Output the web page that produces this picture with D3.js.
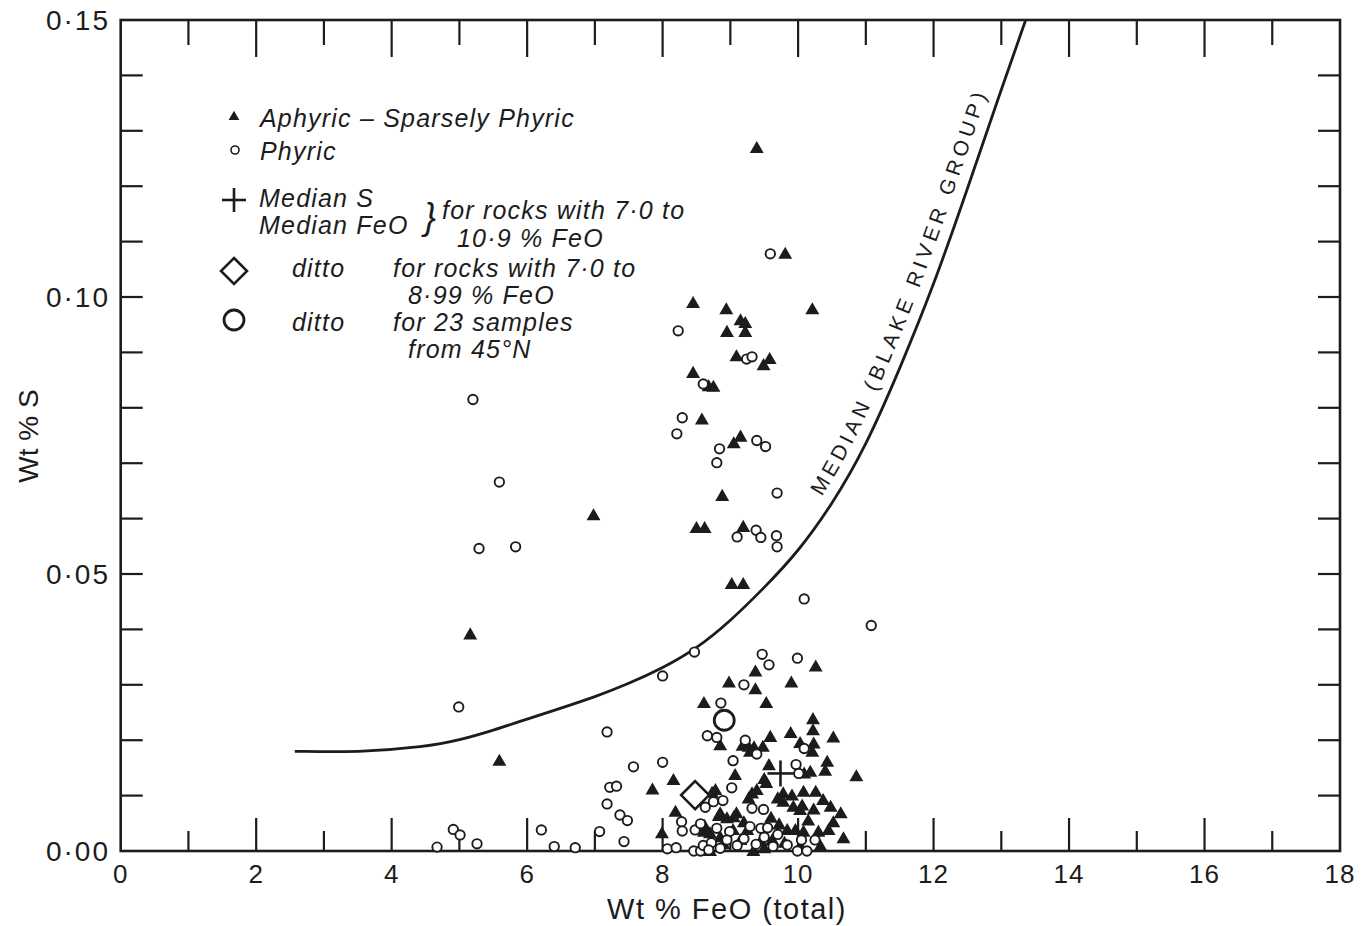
<!DOCTYPE html>
<html lang="en">
<head>
    <meta charset="UTF-8">
    <title>Wt % S vs Wt % FeO</title>
    <script src="https://d3js.org/d3.v7.min.js"></script>
    <style>
        body {
            margin: 0;
            padding: 0;
            background-color: white;
        }
        svg text {
            fill: #1c1c1c;
        }
    </style>
</head>
<body>
    <svg id="chart" width="1365" height="926"></svg>
    <script>
        // FeO (wt %), S (wt %)
        const aphyric = [
            [9.39,0.1269],[9.81,0.1078],[10.21,0.0978],[8.45,0.0989],[8.94,0.0978],[9.15,0.0958],[9.22,0.0953],
            [8.95,0.0937],[9.22,0.0937],[9.09,0.0893],[9.49,0.0877],[9.58,0.0888],[8.45,0.0863],[8.68,0.0839],
            [8.75,0.0838],[8.58,0.0779],[9.15,0.0748],[9.05,0.0736],[8.88,0.0641],[8.50,0.0583],[8.62,0.0583],
            [9.19,0.0585],[9.02,0.0482],[9.19,0.0482],
            [6.98,0.0606],[5.16,0.0391],[5.59,0.0163],
            [10.26,0.0333],[9.37,0.0324],[8.98,0.0304],[9.37,0.0292],[9.90,0.0304],[8.61,0.0267],[9.53,0.0267],
            [10.22,0.0238],[10.22,0.0218],[10.52,0.0205],[9.89,0.0213],[9.59,0.0206],[10.03,0.0195],[10.23,0.0194],
            [8.85,0.0191],[9.27,0.0188],[9.48,0.0188],[10.21,0.0179],[9.29,0.0179],[9.18,0.0190],[9.35,0.0187],
            [10.43,0.0161],[9.57,0.0155],[10.40,0.0145],[10.86,0.0135],[10.09,0.0140],[10.18,0.0143],[9.07,0.0137],
            [8.16,0.0128],[7.85,0.0111],[8.78,0.0110],[9.39,0.0110],[9.32,0.0104],[9.53,0.0123],[9.50,0.0130],
            [9.78,0.0104],[10.08,0.0107],[10.26,0.0107],[10.37,0.0092],[9.78,0.0089],[9.93,0.0080],[10.03,0.0074],
            [10.23,0.0075],[10.48,0.0080],[10.63,0.0068],[9.27,0.0095],[8.73,0.0105],[8.19,0.0071],[9.09,0.0068],
            [8.95,0.0059],[8.61,0.0035],[8.70,0.0032],[9.04,0.0038],[9.25,0.0038],[9.84,0.0038],[9.96,0.0038],
            [10.08,0.0035],[10.30,0.0035],[10.45,0.0038],[10.67,0.0023],[10.33,0.0009],[9.62,0.0020],[9.34,0.0],
            [8.70,0.0],[7.99,0.0032],[10.03,0.0009],[9.05,0.0061],[8.83,0.0063],[8.62,0.0045],[9.15,0.0020],
            [9.45,0.0018],[9.80,0.0015],[8.90,0.0012],[9.60,0.0060],[8.85,0.0025],[10.15,0.0055],[9.70,0.0095],
            [9.91,0.0100],[10.06,0.0082],[8.85,0.0068],[9.20,0.0052],[9.72,0.0048],[10.52,0.0052],[9.50,0.0005]
        ];
        const phyric = [
            [9.59,0.1078],[8.23,0.0939],[9.24,0.0888],[9.32,0.0892],[8.60,0.0843],[8.29,0.0782],[8.21,0.0753],
            [8.84,0.0726],[8.80,0.0701],[9.39,0.0741],[9.52,0.0730],[9.69,0.0646],[9.10,0.0567],[9.38,0.0579],
            [9.45,0.0566],[9.68,0.0569],[9.69,0.0549],[10.09,0.0455],
            [5.20,0.0815],[5.59,0.0666],[5.29,0.0546],[5.83,0.0549],[11.08,0.0407],[4.99,0.0260],
            [7.18,0.0215],[7.57,0.0152],[8.00,0.0160],[7.22,0.0115],[7.32,0.0117],[7.18,0.0085],[7.37,0.0065],
            [7.48,0.0055],[7.07,0.0035],[7.43,0.0017],[8.07,0.0004],[8.20,0.0006],[6.21,0.0038],[6.40,0.0008],
            [6.71,0.0006],[4.91,0.0039],[5.01,0.0029],[5.26,0.0013],[4.67,0.0007],
            [8.47,0.0359],[9.47,0.0355],[9.57,0.0336],[9.99,0.0348],[8.00,0.0316],[9.20,0.0300],[8.86,0.0267],
            [8.66,0.0208],[8.80,0.0205],[9.22,0.0200],[9.39,0.0175],[10.09,0.0185],[9.04,0.0163],[9.97,0.0156],
            [10.01,0.0140],[9.02,0.0114],[8.89,0.0091],[8.75,0.0089],[8.63,0.0079],[9.32,0.0077],[9.49,0.0075],
            [8.28,0.0053],[8.29,0.0036],[8.48,0.0038],[8.56,0.0049],[8.80,0.0041],[8.99,0.0035],[9.29,0.0044],
            [9.45,0.0041],[8.46,0.0],[8.56,0.0],[9.84,0.0011],[9.99,0.0],[10.13,0.0],[9.63,0.0008],[8.60,0.0010],
            [8.72,0.0015],[8.85,0.0005],[9.10,0.0010],[9.20,0.0022],[9.50,0.0025],[9.70,0.0030],[10.25,0.0020],
            [8.95,0.0020],[9.38,0.0012],[9.55,0.0042],[10.05,0.0020],[8.68,0.0002]
        ];
        // medians
        const medianAll = [9.74, 0.0140];     // 7.0 to 10.9 % FeO
        const medianLow = [8.48, 0.0101];     // 7.0 to 8.99 % FeO
        const median45N = [8.91, 0.0236];     // 23 samples from 45 N

        // median curve for the Blake River Group
        const curveFeO = [2.57, 3.5, 4.5, 5.0, 5.5, 6.0, 6.5, 7.0, 7.5, 8.0, 8.5, 9.0, 9.5, 10.0, 10.5, 11.0, 11.5, 12.0, 12.5, 13.0, 13.36];
        const curveS   = [0.0180, 0.0178, 0.0188, 0.0200, 0.0218, 0.0238, 0.0258, 0.0278, 0.0302, 0.0330, 0.0365, 0.0415, 0.0475, 0.0540, 0.0625, 0.0730, 0.0870, 0.1020, 0.1195, 0.1375, 0.150];

        const xTickLabels = [0, 2, 4, 6, 8, 10, 12, 14, 16, 18];
        const yTickLabels = ["0·00", "0·05", "0·10", "0·15"];

        const ink = "#1c1c1c";
        const svg = d3.select("#chart");

        const x = d3.scaleLinear().domain([0, 18]).range([120.7, 1340]);
        const y = d3.scaleLinear().domain([0, 0.15]).range([851, 20]);

        // frame
        svg.append("rect")
            .attr("x", x(0)).attr("y", y(0.15))
            .attr("width", x(18) - x(0)).attr("height", y(0) - y(0.15))
            .attr("fill", "none").attr("stroke", ink).attr("stroke-width", 2.6);

        // ticks (all inward)
        const xt = d3.range(1, 18);
        svg.append("g").selectAll("line").data(xt).join("line")
            .attr("x1", d => x(d)).attr("x2", d => x(d))
            .attr("y1", y(0)).attr("y2", d => y(0) - (d % 2 === 0 ? 33 : 20))
            .attr("stroke", ink).attr("stroke-width", 2.2);
        svg.append("g").selectAll("line").data(xt).join("line")
            .attr("x1", d => x(d)).attr("x2", d => x(d))
            .attr("y1", y(0.15)).attr("y2", d => y(0.15) + (d % 2 === 0 ? 37 : 25))
            .attr("stroke", ink).attr("stroke-width", 2.2);
        const yt = d3.range(1, 15).map(d => d / 100);
        svg.append("g").selectAll("line").data(yt).join("line")
            .attr("x1", x(0)).attr("x2", x(0) + 22)
            .attr("y1", d => y(d)).attr("y2", d => y(d))
            .attr("stroke", ink).attr("stroke-width", 2.2);
        svg.append("g").selectAll("line").data(yt).join("line")
            .attr("x1", x(18)).attr("x2", x(18) - 22)
            .attr("y1", d => y(d)).attr("y2", d => y(d))
            .attr("stroke", ink).attr("stroke-width", 2.2);

        // tick labels
        const tickFont = "'Liberation Sans', sans-serif";
        svg.append("g").selectAll("text").data(xTickLabels).join("text")
            .attr("x", d => x(d)).attr("y", 883)
            .attr("text-anchor", "middle")
            .style("font-family", tickFont).style("font-size", "26px")
            .style("letter-spacing", "1px")
            .text(d => d);
        svg.append("g").selectAll("text").data(yTickLabels).join("text")
            .attr("x", 110).attr("y", (d, i) => y(i * 0.05) + 10)
            .attr("text-anchor", "end")
            .style("font-family", tickFont).style("font-size", "28px")
            .style("letter-spacing", "2px")
            .text(d => d);

        // axis titles
        svg.append("text")
            .attr("x", 727).attr("y", 919)
            .attr("text-anchor", "middle")
            .style("font-family", tickFont).style("font-size", "29px")
            .style("letter-spacing", "1.5px")
            .text("Wt % FeO (total)");
        svg.append("text")
            .attr("transform", "translate(38,436) rotate(-90)")
            .attr("text-anchor", "middle")
            .style("font-family", tickFont).style("font-size", "28px")
            .text("Wt % S");

        // median curve
        const curvePts = curveFeO.map((d, i) => [x(d), y(curveS[i])]);
        const medPath = svg.append("path")
            .attr("id", "medianCurve")
            .attr("d", d3.line().curve(d3.curveBasis)(curvePts))
            .attr("fill", "none").attr("stroke", ink).attr("stroke-width", 2.8);

        // find where the label starts along the curve
        const node = medPath.node();
        let lo = 0, hi = node.getTotalLength();
        for (let k = 0; k < 30; k++) {
            const mid = (lo + hi) / 2;
            if (node.getPointAtLength(mid).x < x(10.5)) lo = mid; else hi = mid;
        }
        svg.append("text")
            .attr("dy", -12)
            .style("font-family", tickFont)
            .style("font-size", "21px").style("letter-spacing", "4.6px")
            .append("textPath")
            .attr("href", "#medianCurve")
            .attr("startOffset", lo)
            .text("MEDIAN (BLAKE RIVER GROUP)");

        // data points
        const tri = d3.symbol().type(d3.symbolTriangle).size(84);
        svg.append("g").selectAll("path").data(aphyric).join("path")
            .attr("d", tri)
            .attr("transform", d => `translate(${x(d[0])},${y(d[1]) + 1})`)
            .attr("fill", ink);
        svg.append("g").selectAll("circle").data(phyric).join("circle")
            .attr("cx", d => x(d[0])).attr("cy", d => y(d[1]))
            .attr("r", 4.7)
            .attr("fill", "white").attr("stroke", ink).attr("stroke-width", 1.9);

        // median markers
        const plus = (g, cx, cy, s) => {
            g.append("line").attr("x1", cx - s).attr("x2", cx + s).attr("y1", cy).attr("y2", cy)
                .attr("stroke", ink).attr("stroke-width", 2.6);
            g.append("line").attr("x1", cx).attr("x2", cx).attr("y1", cy - s).attr("y2", cy + s)
                .attr("stroke", ink).attr("stroke-width", 2.6);
        };
        const diamond = (g, cx, cy, s) => {
            g.append("path")
                .attr("d", `M${cx},${cy - s}L${cx + s},${cy}L${cx},${cy + s}L${cx - s},${cy}Z`)
                .attr("fill", "white").attr("stroke", ink).attr("stroke-width", 2.6);
        };
        const bigCircle = (g, cx, cy, r) => {
            g.append("circle").attr("cx", cx).attr("cy", cy).attr("r", r)
                .attr("fill", "white").attr("stroke", ink).attr("stroke-width", 2.8);
        };
        const marks = svg.append("g");
        plus(marks, x(medianAll[0]), y(medianAll[1]), 13);
        diamond(marks, x(medianLow[0]), y(medianLow[1]), 14);
        bigCircle(marks, x(median45N[0]), y(median45N[1]), 10);

        // legend
        const leg = svg.append("g")
            .style("font-family", tickFont)
            .style("font-style", "italic").style("font-size", "25px")
            .style("letter-spacing", "1.2px");
        leg.append("path").attr("d", d3.symbol().type(d3.symbolTriangle).size(50))
            .attr("transform", "translate(234,117)").attr("fill", ink);
        leg.append("text").attr("x", 260).attr("y", 127).text("Aphyric – Sparsely Phyric");
        leg.append("circle").attr("cx", 235).attr("cy", 150).attr("r", 4)
            .attr("fill", "white").attr("stroke", ink).attr("stroke-width", 1.6);
        leg.append("text").attr("x", 260).attr("y", 160).text("Phyric");

        plus(leg, 234, 200, 12);
        leg.append("text").attr("x", 259).attr("y", 207).text("Median S");
        leg.append("text").attr("x", 259).attr("y", 234).text("Median FeO");
        leg.append("text").attr("x", 424).attr("y", 229)
            .style("font-size", "36px").style("font-weight", "300").text("}");
        leg.append("text").attr("x", 442).attr("y", 219).text("for rocks with 7·0 to");
        leg.append("text").attr("x", 457).attr("y", 247).text("10·9 % FeO");

        diamond(leg, 234, 271, 13);
        leg.append("text").attr("x", 292).attr("y", 277).text("ditto");
        leg.append("text").attr("x", 393).attr("y", 277).text("for rocks with 7·0 to");
        leg.append("text").attr("x", 408).attr("y", 304).text("8·99 % FeO");

        bigCircle(leg, 234, 320, 10);
        leg.append("text").attr("x", 292).attr("y", 331).text("ditto");
        leg.append("text").attr("x", 393).attr("y", 331).text("for 23 samples");
        leg.append("text").attr("x", 408).attr("y", 358).text("from 45°N");
    </script>
</body>
</html>
